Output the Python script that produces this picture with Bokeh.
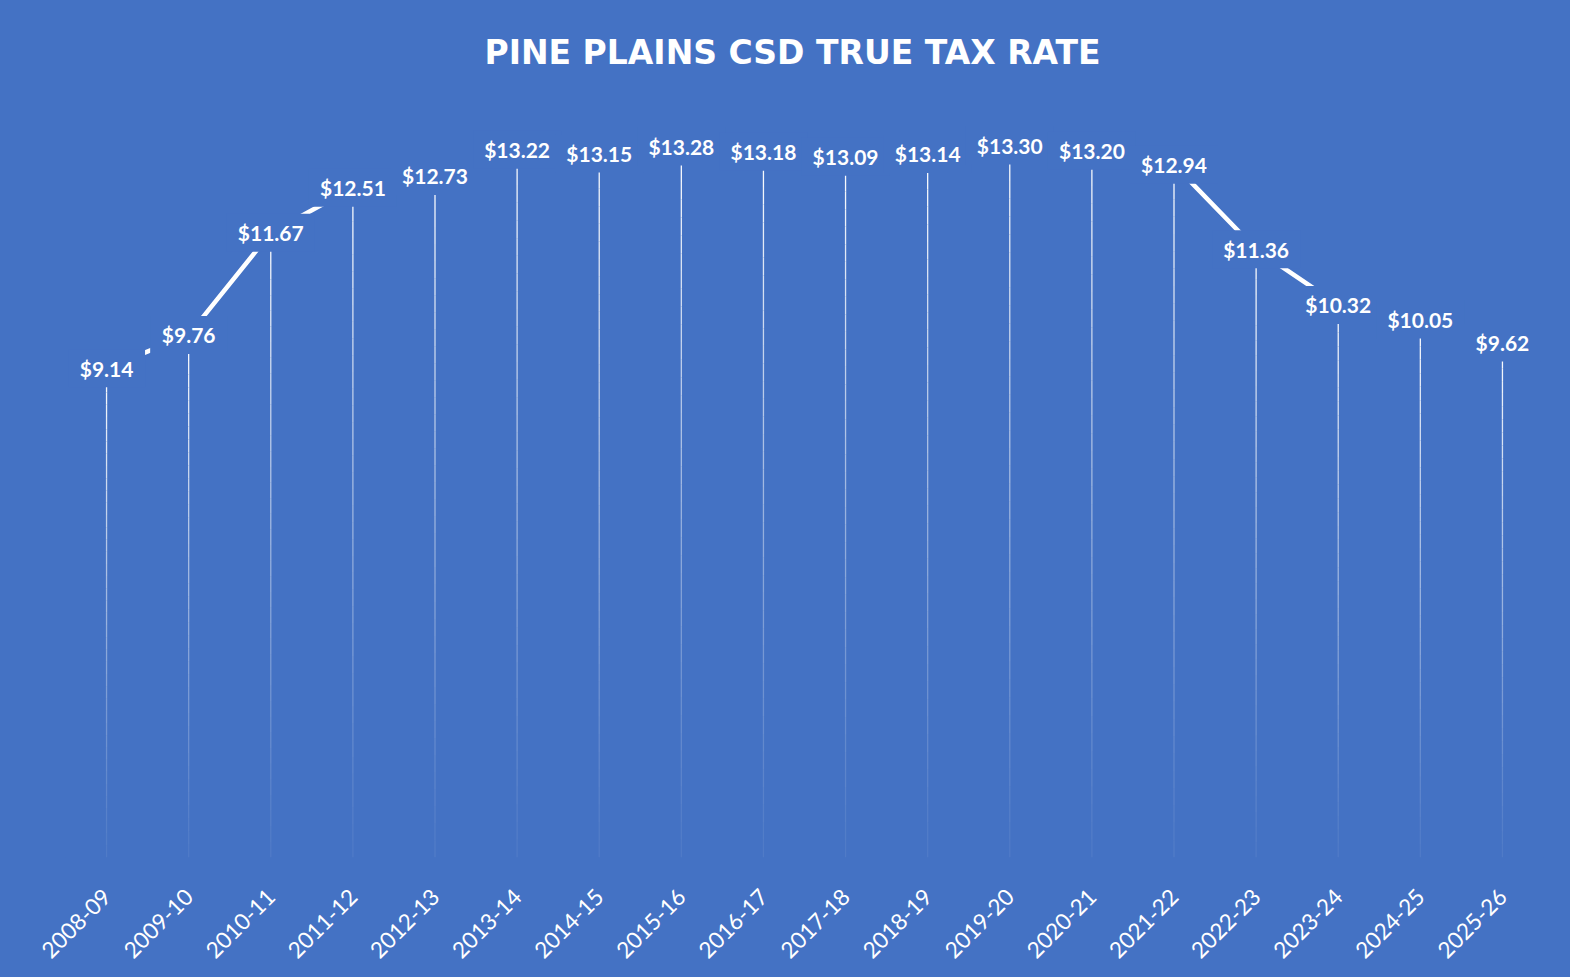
import math
from bokeh.plotting import figure
from bokeh.models import Range1d, ColumnDataSource
from bokeh.core.properties import value
from bokeh.embed import file_html
from bokeh.resources import INLINE

# ---- data ----
years = ["2008-09", "2009-10", "2010-11", "2011-12", "2012-13", "2013-14",
         "2014-15", "2015-16", "2016-17", "2017-18", "2018-19", "2019-20",
         "2020-21", "2021-22", "2022-23", "2023-24", "2024-25", "2025-26"]
rates = [9.14, 9.76, 11.67, 12.51, 12.73, 13.22, 13.15, 13.28, 13.18, 13.09,
         13.14, 13.30, 13.20, 12.94, 11.36, 10.32, 10.05, 9.62]
title_text = "PINE PLAINS CSD TRUE TAX RATE"

BG = "#4472C4"
FONT = "Lato"

labels = ["$%.2f" % v for v in rates]
box_w = [22 + 11 * len(s) for s in labels]

src = ColumnDataSource(dict(x=years, y=rates, lab=labels, bw=box_w))

p = figure(width=1570, height=977, x_range=years, y_range=Range1d(0, 14.12),
           output_backend="svg", toolbar_location=None,
           min_border_left=65, min_border_right=27, min_border_top=100,
           min_border_bottom=120)
p.styles = {"background-color": BG}
p.background_fill_color = BG
p.border_fill_color = None
p.outline_line_color = None
p.xgrid.grid_line_color = None
p.ygrid.grid_line_color = None
p.yaxis.visible = False

# title
p.title.text = title_text
p.title.align = "left"
p.title.offset = 419
p.title.text_color = "white"
p.title.text_font = "DejaVu Sans"
p.title.text_font_style = "bold"
p.title.text_font_size = "33px"
p.title.standoff = 60

# x axis
ax = p.xaxis[0]
ax.axis_line_color = None
ax.major_tick_line_color = None
ax.minor_tick_line_color = None
ax.major_label_orientation = math.pi / 4
ax.major_label_text_color = "white"
ax.major_label_text_font = FONT
ax.major_label_text_font_size = "22.5px"
ax.major_label_standoff = 29

# drop lines with fading gradient (segments from value down to axis)
n = 40
x0, y0, y1, al = [], [], [], []
for cat, v in zip(years, rates):
    for i in range(n):
        a = v * i / n
        b = v * (i + 1) / n
        x0.append(cat)
        y0.append(a)
        y1.append(b)
        frac = (a + b) / 2 / v
        al.append(0.06 + 0.94 * frac ** 1.2)
p.segment(x0=x0, y0=y0, x1=x0, y1=y1, line_color="white", line_alpha=al,
          line_width=1.3)

# connecting line
p.line("x", "y", source=src, line_color="white", line_width=4.5)

# label boxes covering the line
p.rect("x", "y", width="bw", height=38, width_units="screen",
       height_units="screen", source=src, fill_color=BG, line_color=None)

# data labels
p.text("x", "y", text="lab", source=src, text_color="white",
       text_font=value(FONT), text_font_style="bold", text_font_size="21px",
       text_align="center", text_baseline="middle")

open("out.html", "w").write(file_html(p, INLINE))
